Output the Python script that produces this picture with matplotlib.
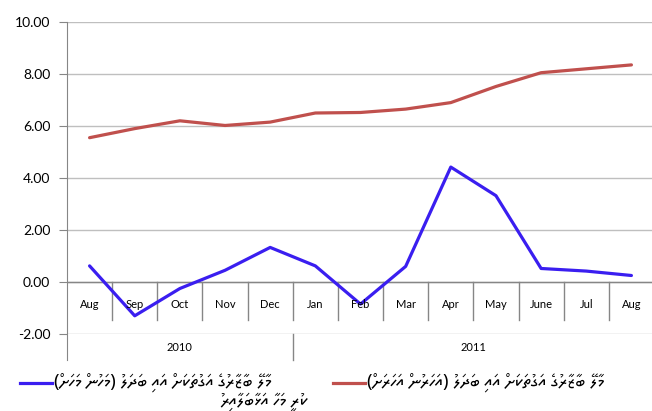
import matplotlib
matplotlib.use('Agg')
import matplotlib.pyplot as plt
import numpy as np

#%% Data
months = ['Aug', 'Sep', 'Oct', 'Nov', 'Dec', 'Jan', 'Feb', 'Mar', 'Apr', 'May', 'June', 'Jul', 'Aug']
years = ['2010', '2011']
year_spans = [5, 8]   # months per year
monthly = [0.62, -1.30, -0.25, 0.45, 1.33, 0.62, -0.85, 0.60, 4.42, 3.32, 0.52, 0.42, 0.25]
annual = [5.55, 5.90, 6.20, 6.02, 6.15, 6.50, 6.52, 6.65, 6.90, 7.52, 8.05, 8.20, 8.35]
label_monthly = 'މާލޭ ބާޒާރުގެ އަގުތަކަށް އައި ބަދަލު (މަހުން މަހަށް)'
label_monthly2 = 'ކުރީ މަހާ އަޅާބަލާއިރު'
label_annual = 'މާލޭ ބާޒާރުގެ އަގުތަކަށް އައި ބަދަލު (އަހަރުން އަހަރަށް)'


def rtl(s):
    # matplotlib draws left to right: flip to visual order, mirror brackets
    return s[::-1].translate(str.maketrans('()', ')('))


#%% Plot
plt.rcParams['font.family'] = ['Lato', 'DejaVu Sans']
fig = plt.figure(figsize=(6.52, 4.11), dpi=100)
W, H = 652, 411
ax = fig.add_axes([67 / W, (H - 334) / H, 587 / W, 312 / H])
x = np.arange(len(months))
grid_c = '#BFBFBF'
axis_c = '#868686'

ax.plot(x, monthly, color='#3A1EF0', lw=2.3, solid_capstyle='round', zorder=3)
ax.plot(x, annual, color='#C0504D', lw=2.3, solid_capstyle='round', zorder=3)

ax.set_xlim(-0.5, len(months) - 0.5)
ax.set_ylim(-2, 10)
yt = np.arange(-2, 10.01, 2)
ax.set_yticks(yt)
ax.set_yticklabels(['%.2f' % v for v in yt], fontsize=10)
ax.tick_params(axis='y', length=6, color=axis_c, pad=6)
ax.set_xticks([])
for v in yt:
    ax.axhline(v, color=grid_c, lw=1, zorder=1)
for s in ['top', 'right', 'bottom']:
    ax.spines[s].set_visible(False)
ax.spines['left'].set_color(axis_c)
ax.spines['left'].set_bounds(-3, 10)
ax.spines['left'].set_clip_on(False)

# category axis at zero, two label levels
ax.axhline(0, color=axis_c, lw=1, zorder=2)
for i in range(1, len(months)):
    ax.plot([i - 0.5, i - 0.5], [0, -1.46], color=axis_c, lw=1, zorder=2)
for i, m in enumerate(months):
    ax.text(i, -0.85, m, ha='center', va='center', fontsize=8)
start = -0.5
for yr, n in zip(years, year_spans):
    ax.text(start + n / 2, -2.5, yr, ha='center', va='center', fontsize=8)
    start += n
    ax.plot([start, start], [-2, -3], color=axis_c, lw=1, clip_on=False)

# legend
thaana = ['Noto Sans Thaana', 'DejaVu Sans']
fig.add_artist(plt.Line2D([20 / W, 52 / W], [(H - 383) / H] * 2, color='#3A1EF0', lw=2.3))
fig.add_artist(plt.Line2D([333 / W, 365 / W], [(H - 383) / H] * 2, color='#C0504D', lw=2.3))
fig.text(54 / W, (H - 383) / H, rtl(label_monthly), ha='left', va='center', fontsize=13, family=thaana)
fig.text(308 / W, (H - 402) / H, rtl(label_monthly2), ha='right', va='center', fontsize=13, family=thaana)
fig.text(367 / W, (H - 383) / H, rtl(label_annual), ha='left', va='center', fontsize=13, family=thaana)

fig.savefig('out.png', dpi=100)
